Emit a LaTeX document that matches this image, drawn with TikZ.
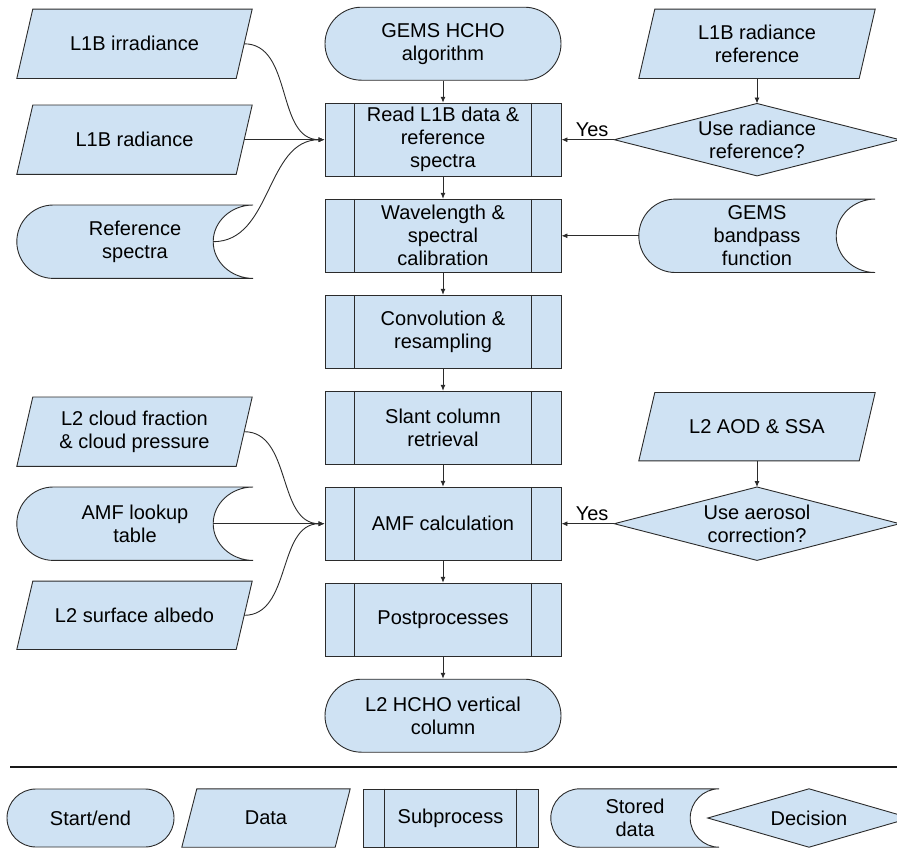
\documentclass[tikz,border=0pt]{standalone}
\usepackage{fontspec}
\setmainfont{Liberation Sans}
\usetikzlibrary{arrows.meta,calc,backgrounds}
\definecolor{boxblue}{HTML}{CFE2F3}
\definecolor{edge}{HTML}{2B2B2B}
\tikzset{
  shp/.style={draw=edge, fill=boxblue, line width=0.9pt},
  txt/.style={inner sep=0pt, align=center, font=\fontsize{20}{23}\selectfont, text=black},
  conn/.style={draw=edge, line width=0.9pt, -{Latex[length=6pt,width=5pt]}},
  inline/.style={draw=edge, line width=0.9pt},
}
\newcommand\DataShape[2]{%
  \draw[shp] ($(#1.north west)+(#2,0)$) -- (#1.north east) -- ($(#1.south east)+(-#2,0)$) -- (#1.south west) -- cycle;}
\newcommand\StoreShape[3]{%
  \draw[shp] ($(#1.north west)+(#2,0)$) -- (#1.north east)
    .. controls ($(#1.north east)+(-0.5523*#3,0)$) and ($(#1.east)+(-#3,-0.5523*#2)$) .. ($(#1.east)+(-#3,0)$)
    .. controls ($(#1.east)+(-#3,0.5523*#2)$) and ($(#1.south east)+(-0.5523*#3,0)$) .. (#1.south east)
    -- ($(#1.south west)+(#2,0)$)
    .. controls ($(#1.south west)+(0.4477*#2,0)$) and ($(#1.west)+(0,0.5523*#2)$) .. (#1.west)
    .. controls ($(#1.west)+(0,-0.5523*#2)$) and ($(#1.north west)+(0.4477*#2,0)$) .. ($(#1.north west)+(#2,0)$) -- cycle;}
\newcommand\DiamShape[1]{%
  \draw[shp] (#1.west) -- (#1.north) -- (#1.east) -- (#1.south) -- cycle;}
\newcommand\SubLines[2]{%
  \draw[inline] ($(#1.north west)+(#2,0)$) -- ($(#1.south west)+(#2,0)$);
  \draw[inline] ($(#1.north east)+(-#2,0)$) -- ($(#1.south east)+(-#2,0)$);}
\begin{document}
\begin{tikzpicture}[x=1pt,y=-1pt]
\useasboundingbox (0,0) rectangle (897,849);

% central column
\node[shp,txt,rounded corners=36.5pt,minimum width=236pt,minimum height=73pt] (start) at (443,43.7) {GEMS HCHO\\algorithm};
\node[shp,txt,minimum width=236pt,minimum height=73pt] (read) at (443,139.7) {Read L1B data \&\\reference\\spectra};
\node[shp,txt,minimum width=236pt,minimum height=73pt] (wave) at (443,235.8) {Wavelength \&\\spectral\\calibration};
\node[shp,txt,minimum width=236pt,minimum height=73pt] (conv) at (443,331.8) {Convolution \&\\resampling};
\node[shp,txt,minimum width=236pt,minimum height=73pt] (slant) at (443,427.8) {Slant column\\retrieval};
\node[shp,txt,minimum width=236pt,minimum height=73pt] (amf) at (443,523.7) {AMF calculation};
\node[shp,txt,minimum width=236pt,minimum height=73pt] (post) at (443,619.7) {Postprocesses};
\node[shp,txt,rounded corners=36.5pt,minimum width=236pt,minimum height=73pt] (fin) at (443,715.7) {L2 HCHO vertical\\column};
\foreach \n in {read,wave,conv,slant,amf,post} {\SubLines{\n}{30}}

% left column
\node[txt,minimum width=235pt,minimum height=69pt] (irr) at (134.5,43.8) {L1B irradiance};
\node[txt,minimum width=235pt,minimum height=69pt] (rad) at (134.5,139.7) {L1B radiance};
\node[txt,minimum width=236pt,minimum height=73pt] (ref) at (135,241.7) {Reference\\spectra};
\node[txt,minimum width=235pt,minimum height=69pt] (cloud) at (134.5,431.7) {L2 cloud fraction\\\& cloud pressure};
\node[txt,minimum width=236pt,minimum height=73pt] (lut) at (135,523.7) {AMF lookup\\table};
\node[txt,minimum width=235pt,minimum height=68pt] (alb) at (134.5,615.3) {L2 surface albedo};

% right column
\node[txt,minimum width=236pt,minimum height=69pt] (rref) at (757,43.8) {L1B radiance\\reference};
\node[txt,minimum width=285pt,minimum height=72pt] (dec1) at (757,139.7) {Use radiance\\reference?};
\node[txt,minimum width=236pt,minimum height=73pt] (gbp) at (757,235.8) {GEMS\\bandpass\\function};
\node[txt,minimum width=236pt,minimum height=68pt] (aod) at (757,426.7) {L2 AOD \& SSA};
\node[txt,minimum width=285pt,minimum height=73pt] (dec2) at (757,523.7) {Use aerosol\\correction?};

% legend
\node[shp,txt,rounded corners=29pt,minimum width=167pt,minimum height=58pt] (lstart) at (90.5,818) {Start/end};
\node[txt,minimum width=168pt,minimum height=58pt] (ldata) at (266,818) {Data};
\node[shp,txt,minimum width=175pt,minimum height=58pt] (lsub) at (450.5,818) {Subprocess};
\SubLines{lsub}{22}
\node[txt,minimum width=168pt,minimum height=58pt] (lstore) at (635,818) {Stored\\data};
\node[txt,minimum width=202pt,minimum height=58pt] (ldec) at (809,818) {Decision};
\draw[line width=2.5pt,draw=black!90] (10,767) -- (897,767);

\begin{scope}[on background layer]
  \DataShape{irr}{16}
  \DataShape{rad}{16}
  \StoreShape{ref}{36.5}{40}
  \DataShape{cloud}{16}
  \StoreShape{lut}{36.5}{40}
  \DataShape{alb}{16}
  \DataShape{rref}{16}
  \DiamShape{dec1}
  \StoreShape{gbp}{36.5}{39}
  \DataShape{aod}{16}
  \DiamShape{dec2}
  \DataShape{ldata}{15}
  \StoreShape{lstore}{29}{29}
  \DiamShape{ldec}
\end{scope}

% connectors
\draw[conn] (start.south) -- (read.north);
\draw[conn] (read.south) -- (wave.north);
\draw[conn] (wave.south) -- (conv.north);
\draw[conn] (conv.south) -- (slant.north);
\draw[conn] (slant.south) -- (amf.north);
\draw[conn] (amf.south) -- (post.north);
\draw[conn] (post.south) -- (fin.north);

\draw[conn] ([xshift=-8pt]irr.east) to[out=0,in=180] (read.west);
\draw[conn] ([xshift=-8pt]rad.east) -- (read.west);
\draw[conn] ([xshift=-40pt]ref.east) to[out=0,in=180] (read.west);

\draw[conn] ([xshift=-8pt]cloud.east) to[out=0,in=180] (amf.west);
\draw[conn] ([xshift=-40pt]lut.east) -- (amf.west);
\draw[conn] ([xshift=-8pt]alb.east) to[out=0,in=180] (amf.west);

\draw[conn] (rref.south) -- (dec1.north);
\draw[conn] (dec1.west) -- (read.east) node[txt,pos=0.42,above=3pt] (yes1) {Yes};
\draw[conn] (gbp.west) -- (wave.east);
\draw[conn] (aod.south) -- (dec2.north);
\draw[conn] (dec2.west) -- (amf.east) node[txt,pos=0.42,above=3pt] (yes2) {Yes};
\end{tikzpicture}
\end{document}
